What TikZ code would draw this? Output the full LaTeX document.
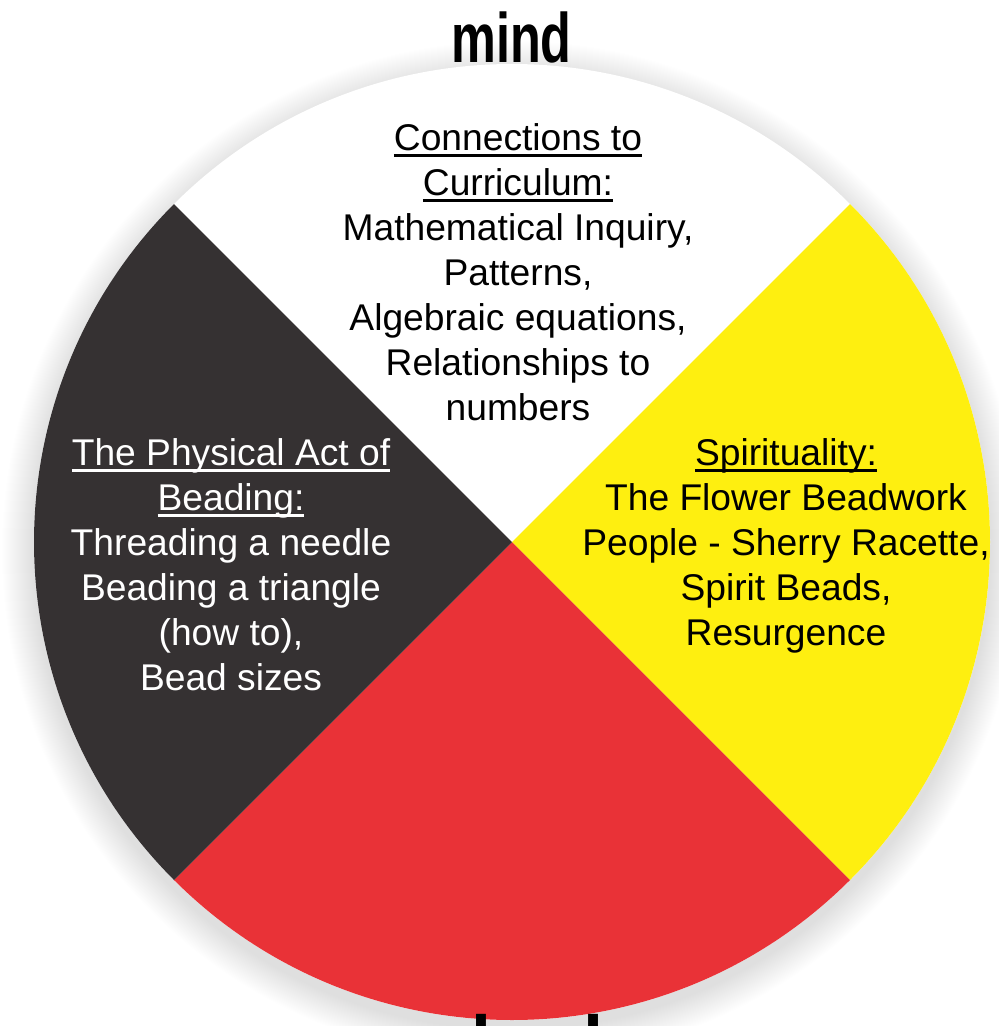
\documentclass[tikz,border=0pt]{standalone}
\usepackage{fontspec}
\setmainfont{Liberation Sans}
\definecolor{wheeldark}{RGB}{53,49,50}
\definecolor{wheelred}{RGB}{233,50,55}
\definecolor{wheelyellow}{RGB}{254,239,16}
\newsavebox\ulbox
\newcommand{\myul}[1]{\sbox\ulbox{#1}\rlap{\rule[-6.5pt]{\wd\ulbox}{3pt}}\usebox\ulbox}
\newcommand{\firstline}{\rule{0pt}{30pt}}
\tikzset{
  blocktext/.style={align=center, inner sep=0pt, anchor=north,
    font={\fontsize{37.2}{45}\selectfont}},
  headword/.style={inner sep=0pt, font={\fontsize{70}{80}\selectfont\bfseries}}
}
\begin{document}
\begin{tikzpicture}[x=1pt,y=-1pt]
\useasboundingbox (0,0) rectangle (999,1026);
\clip (0,0) rectangle (999,1026);
\fill[white] (0,0) rectangle (999,1026);
\coordinate (C) at (512,542);
\coordinate (S) at (512,551);
% soft shadow
\foreach \i in {1,...,32}{
  \fill[black, opacity=0.005] (S) circle (478+\i);
}
% wheel
\fill[white] (C) circle (478);
\fill[wheelyellow] (C) -- ++(-45:478) arc[start angle=-45, end angle=45, radius=478] -- cycle;
\fill[wheelred] (C) -- ++(45:478) arc[start angle=45, end angle=135, radius=478] -- cycle;
\fill[wheeldark] (C) -- ++(135:478) arc[start angle=135, end angle=225, radius=478] -- cycle;
% titles
\node[headword, anchor=base] (mind) at (511.5,62) {\scalebox{0.72}[1]{mind}};
\node[headword, anchor=base west, font={\fontsize{72}{80}\selectfont\bfseries}] (body) at (471.5,1066) {body};
% texts
\node[blocktext] (mindtext) at (518,120) {\firstline\myul{Connections to}\\
  \myul{Curriculum:}\\
  Mathematical Inquiry,\\
  Patterns,\\
  Algebraic equations,\\
  Relationships to\\
  numbers};
\node[blocktext, text=white] (bodytext) at (231,435) {\firstline\myul{The Physical Act of}\\
  \myul{Beading:}\\
  Threading a needle\\
  Beading a triangle\\
  (how to),\\
  Bead sizes};
\node[blocktext] (spirittext) at (786,435) {\firstline\myul{Spirituality:}\\
  The Flower Beadwork\\
  People - Sherry Racette,\\
  Spirit Beads,\\
  Resurgence};
\end{tikzpicture}
\end{document}
